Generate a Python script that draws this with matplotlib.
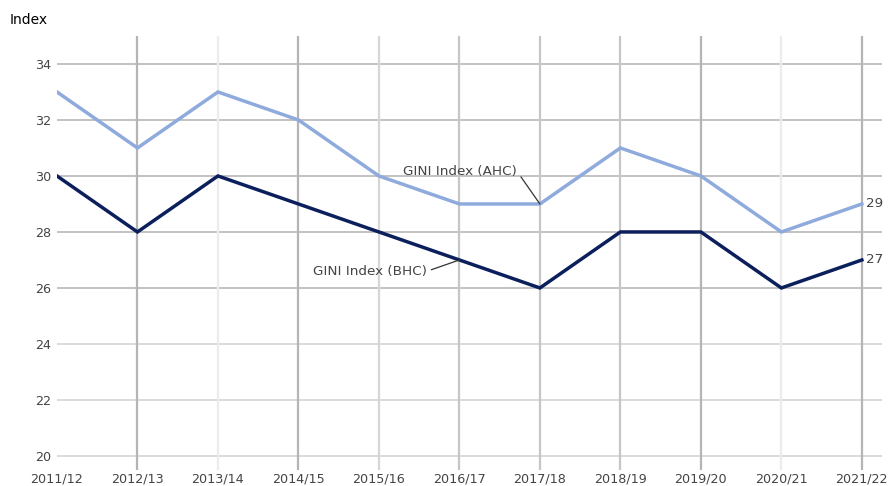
import matplotlib
matplotlib.use("Agg")
import matplotlib.pyplot as plt

years = ["2011/12", "2012/13", "2013/14", "2014/15", "2015/16", "2016/17",
         "2017/18", "2018/19", "2019/20", "2020/21", "2021/22"]
gini_ahc = [33, 31, 33, 32, 30, 29, 29, 31, 30, 28, 29]
gini_bhc = [30, 28, 30, 29, 28, 27, 26, 28, 28, 26, 27]
y_ticks = [20, 22, 24, 26, 28, 30, 32, 34]

ahc_color = "#8faadc"
bhc_color = "#0b1f5c"
text_color = "#444444"

plt.rcParams["font.family"] = "DejaVu Sans"

fig = plt.figure(figsize=(8.9, 4.86), dpi=100)
ax = fig.add_axes([0.064, 0.033, 0.927, 0.893])

x = list(range(len(years)))
ax.plot(x, gini_ahc, color=ahc_color, lw=2.5, solid_joinstyle="miter", zorder=3)
ax.plot(x, gini_bhc, color=bhc_color, lw=2.5, solid_joinstyle="miter", zorder=3)

ax.set_xlim(0, 10.25)
ax.set_ylim(19.5, 35)

# horizontal grid
for v in y_ticks:
    shade = "#bdbdbd" if v >= 26 else "#d8d8d8"
    ax.axhline(v, color=shade, lw=1.3, zorder=1)

# vertical grid at each category except the first
v_shades = ["#b5b5b5", "#ececec", "#b5b5b5", "#d6d6d6", "#c6c6c6",
            "#c6c6c6", "#c6c6c6", "#b5b5b5", "#ececec", "#b5b5b5"]
for i, shade in zip(x[1:], v_shades):
    ax.axvline(i, color=shade, lw=1.6, zorder=1)

ax.set_xticks(x)
ax.set_xticklabels(years)
ax.set_yticks(y_ticks)
ax.tick_params(axis="both", length=0, labelsize=9.2, colors=text_color)
ax.tick_params(axis="x", pad=1.5)
ax.tick_params(axis="y", pad=4)
for s in ax.spines.values():
    s.set_visible(False)

fig.text(0.011, 0.958, "Index", fontsize=10, color="black", va="center")

# series annotations
ax.annotate("GINI Index (AHC)", xy=(6, gini_ahc[6]), xytext=(5.72, 30.15),
            ha="right", va="center", fontsize=9.7, color=text_color,
            arrowprops=dict(arrowstyle="-", color="#333333", lw=0.9,
                            relpos=(1, 0.5), shrinkA=1, shrinkB=0))
ax.annotate("GINI Index (BHC)", xy=(5, gini_bhc[5]), xytext=(4.6, 26.6),
            ha="right", va="center", fontsize=9.7, color=text_color,
            arrowprops=dict(arrowstyle="-", color="#333333", lw=0.9,
                            relpos=(1, 0.5), shrinkA=1, shrinkB=0))

# end-of-line values
ax.annotate(str(gini_ahc[-1]), xy=(x[-1], gini_ahc[-1]), xytext=(3, 0),
            textcoords="offset points", va="center", fontsize=9.7, color=text_color)
ax.annotate(str(gini_bhc[-1]), xy=(x[-1], gini_bhc[-1]), xytext=(3, 0),
            textcoords="offset points", va="center", fontsize=9.7, color=text_color)

fig.savefig("out.png", dpi=100)
